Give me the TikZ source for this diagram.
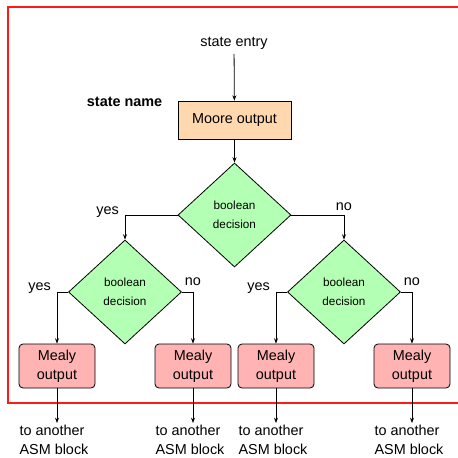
\documentclass[tikz,border=0pt]{standalone}
\usepackage{fontspec}
\setmainfont{Liberation Sans}
\usetikzlibrary{positioning, arrows.meta, calc, shapes.geometric}
\definecolor{bgMoore}{HTML}{FFD8B0}
\definecolor{bgMealy}{HTML}{FFB3B3}
\definecolor{bgDecision}{HTML}{B3FFB3}
\definecolor{frameColor}{HTML}{FF1A1A}
\tikzset{
  moorebox/.style={
    draw, fill=bgMoore, minimum width=84.75pt, minimum height=28.5pt,
    font=\fontsize{10.8}{13}\selectfont, line width=0.6pt, align=center,
  },
  mealybox/.style={
    draw, fill=bgMealy, rounded corners=3pt, minimum width=57pt, minimum height=33pt,
    font=\fontsize{10.8}{14.5}\selectfont, line width=0.6pt, align=center, inner sep=1pt,
  },
  decision/.style={
    diamond, draw, fill=bgDecision, minimum width=84.75pt, minimum height=78pt,
    font=\fontsize{8.8}{14.5}\selectfont, line width=0.6pt, align=center, inner sep=0pt,
  },
  plaintext/.style={font=\fontsize{10.8}{14.5}\selectfont, align=left},
  branchlabel/.style={font=\fontsize{10.8}{13}\selectfont},
  stdarrow/.style={-{Stealth[length=4pt, width=3pt]}, line width=0.6pt},
  frame/.style={draw=frameColor, line width=1pt},
}
\begin{document}
\begin{tikzpicture}[x=0.75pt, y=-0.75pt]
  \useasboundingbox (0,0) rectangle (458,458);

  % === ASM block frame ===
  \draw[frame] (8,7) rectangle (480,403);

  % === State box ===
  \node[plaintext] (entry) at (234,43) {state entry};
  \node[moorebox] (moore) at (234.5,120) {Moore output};
  \node[plaintext, font=\fontsize{10.8}{13}\selectfont\bfseries, anchor=east, xshift=-8pt, yshift=-1pt] (sname) at (moore.north west) {state name};

  % === Decisions ===
  \node[decision] (d0) at (234.5,215) {boolean\\decision};
  \node[decision] (d1) at (125,292) {boolean\\decision};
  \node[decision] (d2) at (344,292) {boolean\\decision};

  % === Mealy outputs ===
  \node[mealybox] (m1) at (57,366) {Mealy\\output};
  \node[mealybox] (m2) at (193,366) {Mealy\\output};
  \node[mealybox] (m3) at (276,366) {Mealy\\output};
  \node[mealybox] (m4) at (412,366) {Mealy\\output};

  % === Exits ===
  \node[plaintext, anchor=north west, inner sep=1pt] (t1) at (18,423) {to another\\ASM block};
  \node[plaintext, anchor=north west, inner sep=1pt] (t2) at (154,423) {to another\\ASM block};
  \node[plaintext, anchor=north west, inner sep=1pt] (t3) at (237,423) {to another\\ASM block};
  \node[plaintext, anchor=north west, inner sep=1pt] (t4) at (373,423) {to another\\ASM block};

  % === Arrows: main path ===
  \draw[stdarrow] (entry) -- (moore);
  \draw[stdarrow] (moore) -- (d0);

  % === Arrows: branches ===
  \draw[stdarrow] (d0.west) -| node[pos=0.5, branchlabel, anchor=east, xshift=-1pt, yshift=2pt] {yes} (d1.north);
  \draw[stdarrow] (d0.east) -| node[pos=0.5, branchlabel, above] {no} (d2.north);
  \draw[stdarrow] (d1.west) -| node[pos=0.5, branchlabel, anchor=east, xshift=-1pt, yshift=3pt] {yes} (m1.north);
  \draw[stdarrow] (d1.east) -| node[pos=0.5, branchlabel, above, yshift=1pt] {no} (m2.north);
  \draw[stdarrow] (d2.west) -| node[pos=0.5, branchlabel, anchor=east, xshift=-1pt, yshift=3pt] {yes} (m3.north);
  \draw[stdarrow] (d2.east) -| node[pos=0.5, branchlabel, above, yshift=1pt] {no} (m4.north);

  % === Arrows: exits ===
  \foreach \i in {1,...,4}
    \draw[stdarrow] (m\i.south) -- (m\i.south |- t\i.north);

\end{tikzpicture}
\end{document}
